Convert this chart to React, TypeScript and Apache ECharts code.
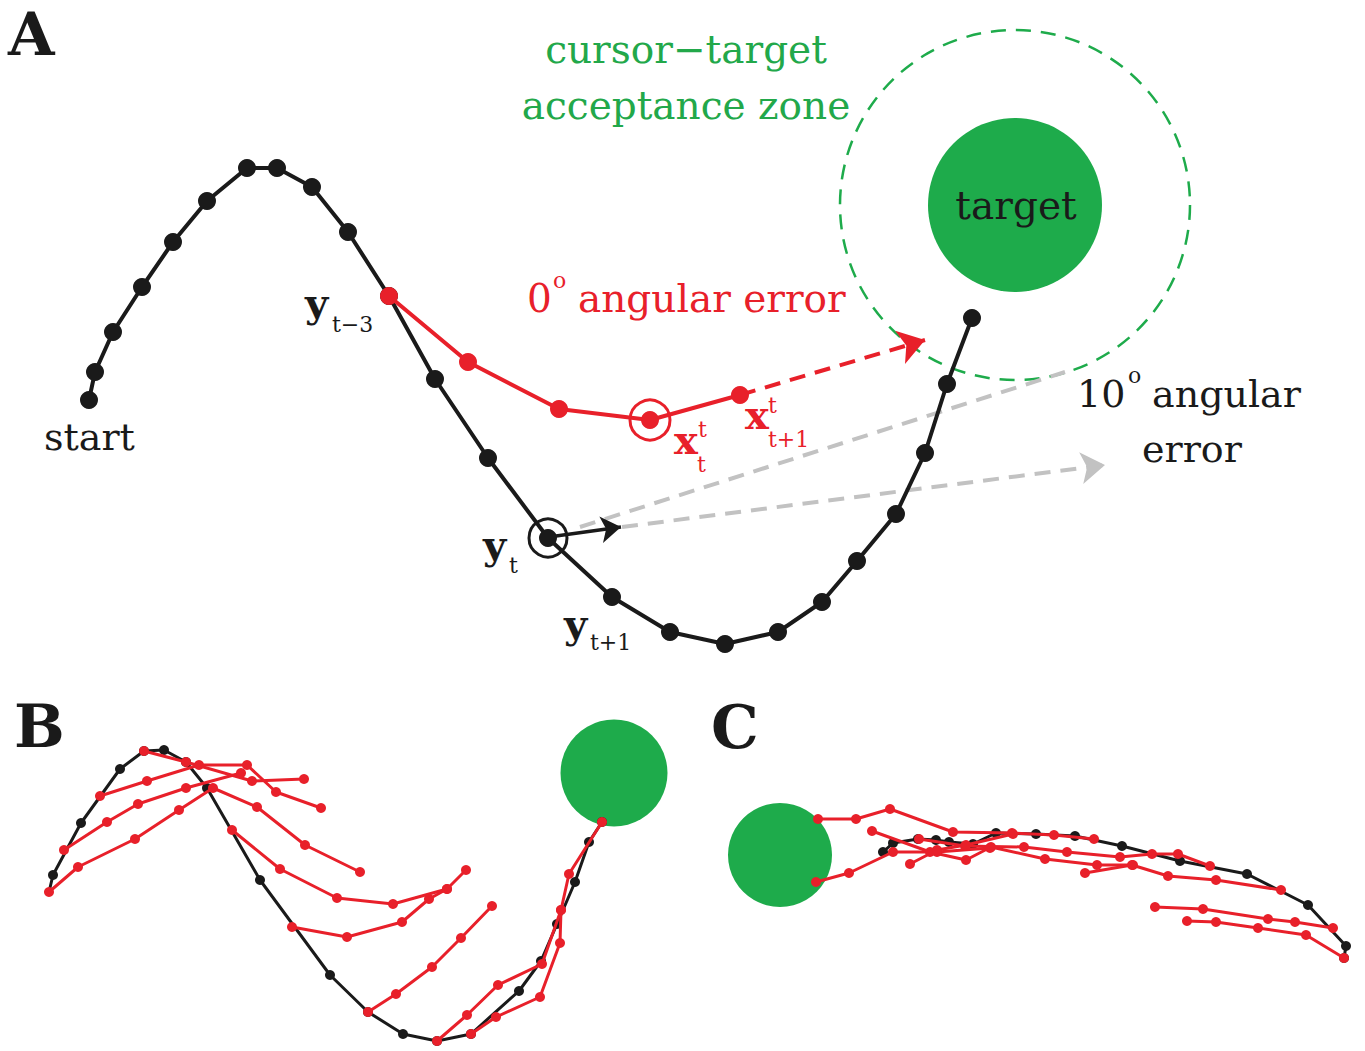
import React, { useEffect, useRef } from "react";
import * as echarts from "echarts";

// ---------- Panel A ----------
const aBlackPath = [
  [89, 400], [95, 372], [113, 332], [142, 287], [173, 242], [207, 201], [247, 168], [277, 168],
  [312, 187], [348, 232], [389, 296], [435, 379], [488, 458], [548, 538], [612, 597], [670, 632],
  [725, 644], [778, 632], [822, 602], [857, 561], [896, 514], [925, 453], [947, 384], [972, 318],
];
const aRedPath = [[389, 296], [468, 362], [559, 409], [650, 420], [740, 395]];
const aCircledRed = [[650, 420]];
const aCircledBlack = [[548, 538]];
const aRedArrow = [[740, 395], [925, 340]];
const aBlackArrow = [[556, 536], [621, 527]];
const aGrayUpper = [[580, 527], [1065, 372]];
const aGrayLower = [[622, 527], [1105, 465]];
const aTarget = [[1015, 205]];

// ---------- Panel B ----------
const bBlackPath = [
  [49, 892], [53, 875], [81, 823], [120, 769], [144, 751], [164, 750], [186, 762], [207, 788],
  [260, 880], [330, 975], [368, 1012], [403, 1034], [437, 1041], [471, 1034], [519, 991],
  [541, 961], [557, 924], [575, 882], [589, 842], [602, 822],
];
const bRed1 = [[144, 751], [186, 762], [252, 781], [304, 779]];
const bRed2 = [[100, 796], [147, 781], [199, 765], [247, 765], [276, 792], [321, 808]];
const bRed3 = [[64, 850], [107, 822], [138, 804], [186, 788], [241, 773]];
const bRed4 = [[49, 892], [78, 867], [135, 839], [179, 810], [213, 788], [257, 807], [305, 845], [360, 872]];
const bRed5 = [[232, 830], [280, 869], [337, 898], [393, 904], [447, 889], [466, 870]];
const bRed6 = [[292, 927], [347, 937], [402, 922], [429, 899], [447, 889]];
const bRed7 = [[368, 1012], [396, 994], [432, 967], [461, 938], [492, 906]];
const bRed8 = [[437, 1041], [467, 1015], [498, 985], [542, 964], [561, 910], [569, 874], [602, 822]];
const bRed9 = [[471, 1034], [496, 1017], [540, 997], [560, 943], [561, 910]];
const bTarget = [[614, 773]];

// ---------- Panel C ----------
const cBlackPath = [
  [1344, 958], [1346, 946], [1308, 905], [1247, 874], [1180, 861], [1122, 846], [1075, 836],
  [1036, 834], [996, 833], [973, 844], [949, 842], [936, 840], [918, 839], [893, 843], [883, 852],
];
const cRed1 = [[1094, 839], [1054, 835], [1012, 833], [953, 832], [890, 809], [856, 819], [818, 819]];
const cRed2 = [[990, 848], [937, 852], [893, 852], [849, 873], [816, 882]];
const cRed3 = [[1133, 865], [1097, 865], [1045, 859], [991, 847], [966, 860], [930, 852], [872, 831]];
const cRed4 = [[1281, 890], [1216, 880], [1168, 876], [1132, 865], [1085, 873]];
const cRed5 = [[1210, 866], [1178, 854], [1152, 854], [1120, 857], [1067, 852], [1024, 847], [965, 846], [919, 839]];
const cRed6 = [[1333, 928], [1295, 922], [1268, 919], [1203, 909], [1155, 907]];
const cRed7 = [[1344, 958], [1306, 935], [1258, 928], [1216, 922], [1187, 921]];
const cRed8 = [[1013, 834], [966, 845], [937, 850], [910, 864]];
const cTarget = [[780, 855]];

const RED = "#e8202a";
const GREEN = "#1eab4b";
const TEXT_GREEN = "#22a84a";
const BLACK = "#1a1a1a";
const GRAY = "#c2c2c2";
const FONT = "DejaVu Serif";

function pathSeries(data: any[], color: string, width: number, sym: number, z: number) {
  return {
    type: "line",
    data,
    symbol: "circle",
    symbolSize: sym,
    showSymbol: true,
    showAllSymbol: true,
    lineStyle: { color, width, opacity: 1 },
    itemStyle: { color, opacity: 1 },
    z,
    silent: true,
    clip: false,
    emphasis: { disabled: true },
  };
}

function arrowSeries(coords: number[][], color: string, width: number, dash: any, head: boolean, size: number[], z: number) {
  return {
    type: "lines",
    coordinateSystem: "cartesian2d",
    data: [{ coords }],
    symbol: head ? ["none", "arrow"] : ["none", "none"],
    symbolSize: size,
    lineStyle: { color, width, type: dash, opacity: 1, curveness: 0 },
    z,
    silent: true,
  };
}

function ringSeries(data: number[][], size: number, color: string, width: number, dash: any, z: number) {
  return {
    type: "scatter",
    data,
    symbol: "circle",
    symbolSize: size,
    itemStyle: { color: "rgba(0,0,0,0)", borderColor: color, borderWidth: width, borderType: dash, opacity: 1 },
    z,
    silent: true,
  };
}

function discSeries(data: number[][], size: number, z: number) {
  return {
    type: "scatter",
    data,
    symbol: "circle",
    symbolSize: size,
    itemStyle: { color: GREEN, opacity: 1 },
    z,
    silent: true,
  };
}

function txt(text: string, x: number, baseline: number, fs: number, fill: string, opts: any = {}) {
  return {
    type: "text",
    x,
    y: baseline - 0.346 * fs,
    silent: true,
    z: 100,
    style: {
      text,
      fontSize: fs,
      fontFamily: FONT,
      fontWeight: opts.bold ? "bold" : "normal",
      fill,
      align: opts.align || "left",
      verticalAlign: "middle",
    },
  };
}

export default function App() {
  const ref = useRef<HTMLDivElement>(null);
  useEffect(() => {
    document.body.style.margin = "0";
    const chart = echarts.init(ref.current!, null, { renderer: "svg" });
    const series: any[] = [
      ringSeries(aTarget, 350, GREEN, 2.5, [15, 10], 1),
      discSeries(aTarget, 174, 2),
      discSeries(bTarget, 107, 2),
      discSeries(cTarget, 104, 2),
      arrowSeries(aGrayUpper, GRAY, 4, [16, 10], false, [18, 24], 3),
      arrowSeries(aGrayLower, GRAY, 4, [16, 10], true, [18, 24], 3),
      pathSeries(aBlackPath, BLACK, 4, 18, 5),
      pathSeries(aRedPath, RED, 4, 18, 6),
      arrowSeries(aRedArrow, RED, 4, [16, 10], true, [20, 26], 6),
      arrowSeries(aBlackArrow, BLACK, 3.5, "solid", true, [16, 20], 6),
      ringSeries(aCircledRed, 40, RED, 3, "solid", 7),
      ringSeries(aCircledBlack, 38, BLACK, 3, "solid", 7),
      pathSeries(
        bBlackPath.map((p, i) => (i === 0 ? { value: p, symbolSize: 0 } : p)),
        BLACK, 3, 10, 5
      ),
      ...[bRed1, bRed2, bRed3, bRed4, bRed5, bRed6, bRed7, bRed8, bRed9].map((d) =>
        pathSeries(d, RED, 3, 10, 6)
      ),
      pathSeries(cBlackPath, BLACK, 3, 10, 5),
      ...[cRed1, cRed2, cRed3, cRed4, cRed5, cRed6, cRed7, cRed8].map((d) =>
        pathSeries(d, RED, 3, 10, 6)
      ),
    ];

    const graphic: any[] = [
      txt("A", 8, 55, 60, BLACK, { bold: true }),
      txt("B", 14, 747, 60, BLACK, { bold: true }),
      txt("C", 711, 748, 60, BLACK, { bold: true }),
      txt("cursor\u2212target", 686, 63, 39, TEXT_GREEN, { align: "center" }),
      txt("acceptance zone", 686, 119, 39, TEXT_GREEN, { align: "center" }),
      txt("target", 1016, 219, 39, BLACK, { align: "center" }),
      txt("0", 527, 312, 39, RED),
      txt("o", 553, 288, 22, RED),
      txt("angular error", 578, 312, 39, RED),
      txt("10", 1077, 407, 38, BLACK),
      txt("o", 1128, 383, 22, BLACK),
      txt("angular", 1152, 407, 38, BLACK),
      txt("error", 1142, 462, 38, BLACK),
      txt("start", 44, 450, 38, BLACK),
      txt("y", 305, 316, 40, BLACK, { bold: true }),
      txt("t\u22123", 332, 332, 22, BLACK),
      txt("y", 483, 558, 40, BLACK, { bold: true }),
      txt("t", 509, 573, 22, BLACK),
      txt("y", 564, 637, 40, BLACK, { bold: true }),
      txt("t+1", 590, 650, 22, BLACK),
      txt("x", 674, 453, 40, RED, { bold: true }),
      txt("t", 698, 437, 22, RED),
      txt("t", 697, 472, 22, RED),
      txt("x", 745, 428, 40, RED, { bold: true }),
      txt("t", 768, 413, 22, RED),
      txt("t+1", 768, 447, 22, RED),
    ];

    chart.setOption({
      animation: false,
      grid: { left: 0, right: 0, top: 0, bottom: 0, containLabel: false },
      xAxis: { type: "value", min: 0, max: 1365, show: false },
      yAxis: { type: "value", min: 0, max: 1051, inverse: true, show: false },
      tooltip: { show: false },
      series,
      graphic,
    });
    return () => chart.dispose();
  }, []);
  return <div ref={ref} style={{ width: 1365, height: 1051 }} />;
}
